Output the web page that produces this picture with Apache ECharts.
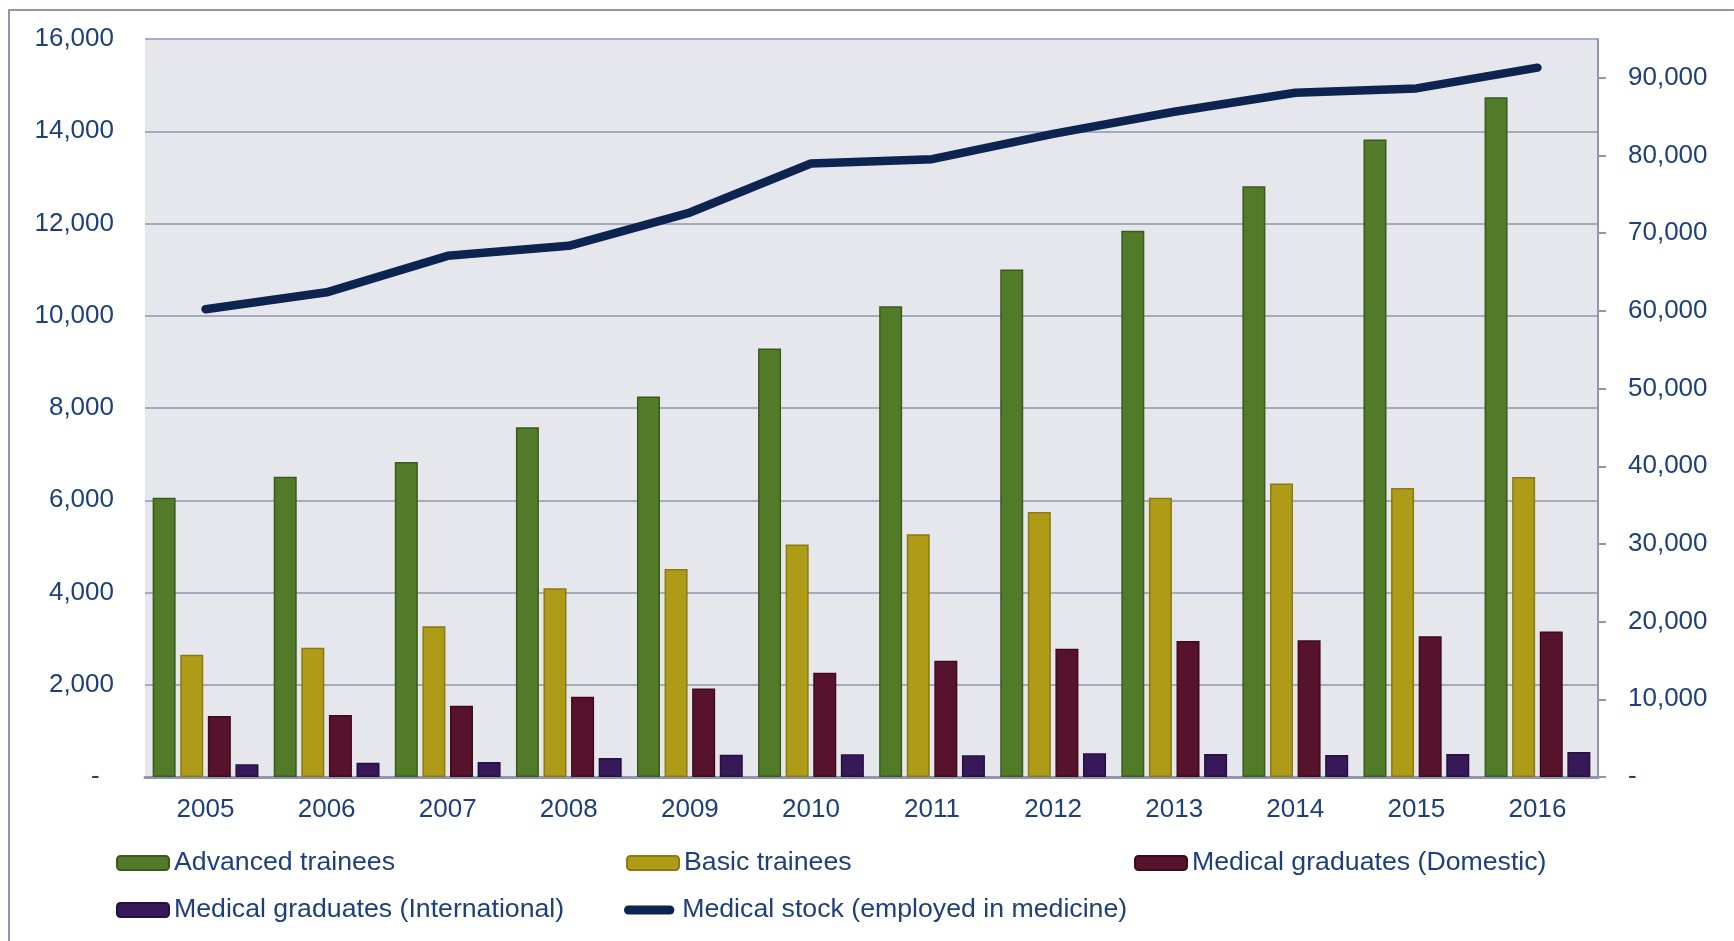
<!DOCTYPE html>
<html>
<head>
<meta charset="utf-8">
<script src="https://cdn.jsdelivr.net/npm/echarts@6/dist/echarts.min.js"></script>
<style>
html,body{margin:0;padding:0;background:#fff;}
#chart{width:1734px;height:941px;}
</style>
</head>
<body>
<div id="chart"></div>
<script>
const years = ['2005','2006','2007','2008','2009','2010','2011','2012','2013','2014','2015','2016'];
const advancedTrainees = [6055, 6512, 6830, 7585, 8250, 9290, 10205, 11005, 11842, 12810, 13820, 14735];
const basicTrainees = [2650, 2801, 3271, 4091, 4510, 5038, 5263, 5744, 6054, 6364, 6264, 6504];
const gradsDomestic = [1321, 1343, 1545, 1740, 1920, 2260, 2520, 2780, 2946, 2967, 3054, 3155];
const gradsInternational = [274, 310, 325, 412, 484, 491, 469, 513, 498, 477, 498, 542];
const medicalStock = [60220, 62390, 67090, 68380, 72660, 78970, 79530, 82790, 85640, 88080, 88640, 91310];
const leftTicks = [0, 2000, 4000, 6000, 8000, 10000, 12000, 14000, 16000];
const rightTicks = [0, 10000, 20000, 30000, 40000, 50000, 60000, 70000, 80000, 90000];

const names = ['Advanced trainees','Basic trainees','Medical graduates (Domestic)','Medical graduates (International)','Medical stock (employed in medicine)'];
const txt = '#1d3f7a';
const font = "'Liberation Sans', Arial, sans-serif";
const gridCol = '#8f96ae';
const fmt = v => v.toString().replace(/\B(?=(\d{3})+(?!\d))/g, ',');

function legend(name, left, top, icon, h, w) {
  return {
    data: [icon ? {name: name, icon: icon} : name],
    left: left, top: top, padding: 0,
    itemWidth: w || 52, itemHeight: h || 14,
    selectedMode: false,
    textStyle: {color: txt, fontSize: 26.7, fontFamily: font, lineHeight: 30}
  };
}

const chart = echarts.init(document.getElementById('chart'));
chart.setOption({
  animation: false,
  backgroundColor: '#fff',
  graphic: [{
    type: 'rect', shape: {x: 9, y: 10, width: 1800, height: 1000},
    style: {fill: 'none', stroke: gridCol, lineWidth: 2}, z: -1, silent: true
  }],
  grid: {left: 145, right: 136, top: 39, bottom: 164, show: true, backgroundColor: '#e6e7ec', borderWidth: 0},
  legend: [
    legend(names[0], 116, 848),
    legend(names[1], 626, 848),
    legend(names[2], 1134, 848),
    legend(names[3], 116, 895),
    legend(names[4], 624, 895, 'path://M5,0 H51 A5,5 0 0 1 51,10 H5 A5,5 0 0 1 5,0 Z', 9, 56)
  ],
  xAxis: {
    type: 'category', data: years,
    axisLine: {lineStyle: {color: gridCol, width: 3}},
    axisTick: {show: false},
    axisLabel: {color: txt, fontSize: 26, fontFamily: font, margin: 20}
  },
  yAxis: [{
    type: 'value', min: 0, max: 16000, interval: 2000,
    axisLine: {show: false}, axisTick: {show: false},
    splitLine: {lineStyle: {color: gridCol, width: 1.5}},
    axisLabel: {color: txt, fontSize: 26, fontFamily: font, margin: 31,
      customValues: leftTicks,
      formatter: v => v === 0 ? '-  ' : fmt(v)}
  }, {
    type: 'value', min: 0, max: 95000, interval: 10000, position: 'right',
    axisLine: {show: true, lineStyle: {color: gridCol, width: 2}},
    axisTick: {show: true, length: 8, lineStyle: {color: gridCol, width: 2}, customValues: rightTicks},
    splitLine: {show: false},
    axisLabel: {color: txt, fontSize: 26, fontFamily: font, margin: 30,
      customValues: rightTicks,
      formatter: v => v === 0 ? '-' : fmt(v)}
  }],
  series: [
    {name: names[0], type: 'bar', data: advancedTrainees, barWidth: 23, barGap: '20%',
      itemStyle: {color: '#517a29', borderColor: '#3b5a1c', borderWidth: 1.5}},
    {name: names[1], type: 'bar', data: basicTrainees, barWidth: 23, barGap: '20%',
      itemStyle: {color: '#ae9b18', borderColor: '#8a7a10', borderWidth: 1.5}},
    {name: names[2], type: 'bar', data: gradsDomestic, barWidth: 23, barGap: '20%',
      itemStyle: {color: '#57132b', borderColor: '#3e0b1d', borderWidth: 1.5}},
    {name: names[3], type: 'bar', data: gradsInternational, barWidth: 23, barGap: '20%',
      itemStyle: {color: '#371859', borderColor: '#241040', borderWidth: 1.5}},
    {name: names[4], type: 'line', yAxisIndex: 1, data: medicalStock, symbol: 'none', z: 5,
      color: '#0d2350',
      lineStyle: {color: '#0d2350', width: 8.5, cap: 'round', join: 'round'},
      itemStyle: {color: '#0d2350'}}
  ]
});
</script>
</body>
</html>
